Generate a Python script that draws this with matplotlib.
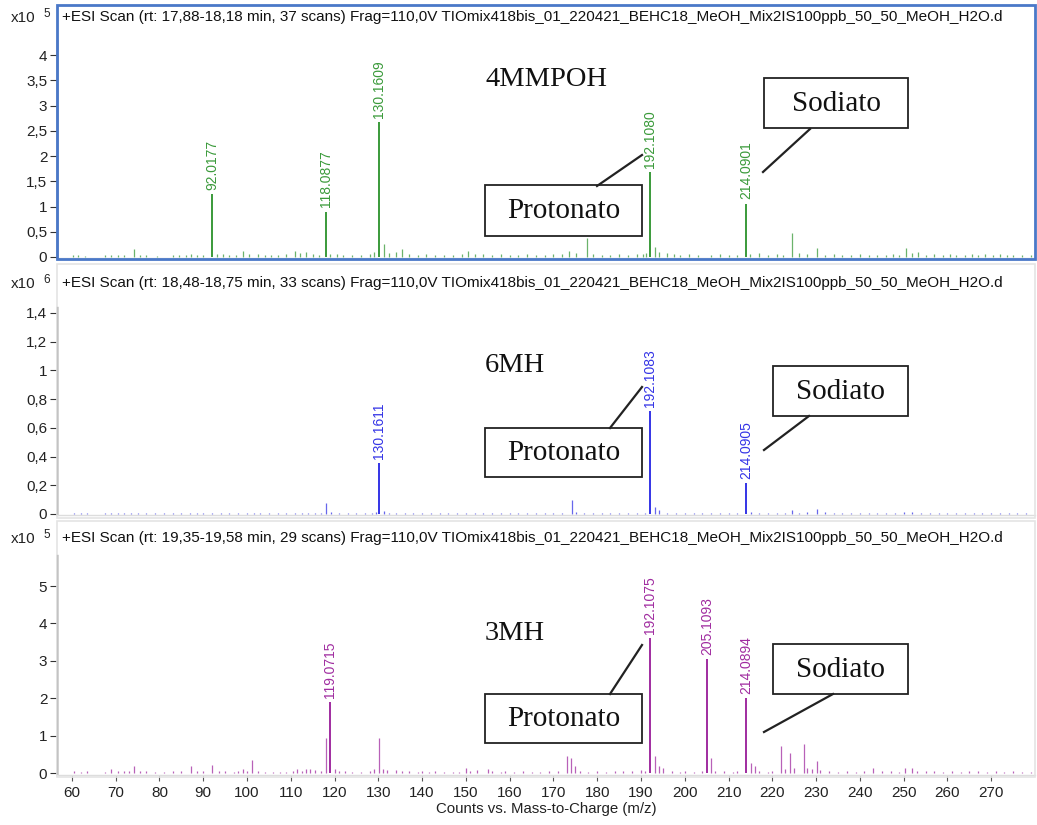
import matplotlib
matplotlib.use("Agg")
import matplotlib.pyplot as plt
from matplotlib.patches import Rectangle
from matplotlib.ticker import FuncFormatter

# ---------------------------------------------------------------- data
SAMPLE_FILE = "TIOmix418bis_01_220421_BEHC18_MeOH_Mix2IS100ppb_50_50_MeOH_H2O.d"
scan_titles = [
    "+ESI Scan (rt: 17,88-18,18 min, 37 scans) Frag=110,0V " + SAMPLE_FILE,
    "+ESI Scan (rt: 18,48-18,75 min, 33 scans) Frag=110,0V " + SAMPLE_FILE,
    "+ESI Scan (rt: 19,35-19,58 min, 29 scans) Frag=110,0V " + SAMPLE_FILE,
]
compounds = ["4MMPOH", "6MH", "3MH"]
scale_exp = [5, 6, 5]

# labelled peaks (m/z, intensity in units of 10^exp)
p1_mz = [92.0177, 118.0877, 130.1609, 192.1080, 214.0901]
p1_int = [1.25, 0.90, 2.68, 1.69, 1.06]
p2_mz = [130.1611, 192.1083, 214.0905]
p2_int = [0.353, 0.717, 0.214]
p3_mz = [119.0715, 192.1075, 205.1093, 214.0894]
p3_int = [1.91, 3.60, 3.04, 2.00]

# minor (unlabelled) peaks as (m/z, intensity)
m1_peaks = [
    (60.3, .03), (61.5, .03), (63, .02), (67.5, .03), (69, .04), (70.5, .03),
    (72, .04), (74.2, .15), (75.5, .03), (77, .03), (79.5, .02), (83, .03),
    (84.5, .04), (86, .03), (87.2, .05), (88.5, .03), (90, .04), (93.2, .06),
    (94.5, .05), (96, .04), (97.5, .03), (99, .12), (100.5, .05), (102.5, .06),
    (104, .04), (105.5, .03), (107, .04), (109, .05), (111, .12), (112, .07),
    (113.5, .09), (115, .05), (116.5, .04), (119, .06), (120.5, .05), (122, .04),
    (124, .03), (126, .04), (128, .05), (129, .10), (131.2, .25), (132.5, .07),
    (134, .10), (135.5, .15), (137, .05), (139, .04), (141, .05), (143, .04),
    (145, .03), (147, .04), (149, .05), (150.5, .12), (152, .06), (154, .05),
    (156, .04), (158, .05), (160, .04), (162, .03), (164, .05), (166, .04),
    (168, .03), (170, .05), (172, .06), (173.5, .12), (175.1, .08), (177.6, .37),
    (179, .05), (181, .04), (183, .03), (185, .05), (187, .04), (189, .05),
    (190.5, .06), (191.2, .08), (193.2, .20), (194.2, .10), (196, .07),
    (197.5, .05), (199, .04), (201, .05), (203, .04), (206, .04), (208, .05),
    (210, .03), (212, .04), (215, .05), (217, .08), (219, .04), (221, .05),
    (222.5, .04), (224.4, .48), (226, .07), (228, .05), (230.1, .18), (232, .04),
    (234, .05), (236, .03), (238, .04), (240, .05), (242, .04), (244, .03),
    (246, .04), (247.5, .05), (249, .04), (250.5, .18), (252, .08), (253.2, .10),
    (255, .04), (257, .05), (259, .04), (260.5, .05), (262, .03), (264, .04),
    (265.5, .06), (267, .04), (268.5, .05), (270.5, .04), (272, .06),
    (273.5, .04), (275, .03), (277, .04), (279, .03),
]

m2_peaks = [
    (60.5, .008), (62, .006), (63.5, .008), (67.5, .006), (69, .008),
    (70.5, .007), (72, .008), (73.5, .006), (75, .007), (77, .008), (79, .006),
    (81, .007), (83, .006), (85, .008), (87, .007), (88.5, .006), (90, .008),
    (92, .006), (94, .007), (96, .008), (98, .007), (100, .006), (101.5, .008),
    (103, .007), (105, .006), (107, .007), (109, .008), (111, .007),
    (112.5, .009), (114, .008), (115.5, .007), (117, .008), (118, .080),
    (119.2, .012), (121, .007), (123, .008), (125, .006), (127, .008),
    (128.5, .009), (129.5, .012), (131.2, .020), (132.5, .009), (134, .008),
    (136, .007), (138, .008), (140, .006), (142, .007), (144, .008), (146, .007),
    (148, .008), (150, .009), (152, .008), (154, .007), (156, .008), (158, .009),
    (160, .007), (162, .008), (164, .009), (166, .008), (168, .007), (170, .009),
    (172, .008), (174.2, .100), (175.2, .015), (177, .008), (179, .007),
    (181, .009), (183, .008), (185, .007), (187, .008), (189, .009), (191, .010),
    (193.1, .050), (194.1, .025), (196, .010), (198, .008), (200, .007),
    (202, .008), (204, .007), (206, .009), (208, .008), (210, .007), (212, .008),
    (215.1, .012), (217, .009), (219, .008), (221, .009), (223, .010),
    (224.4, .030), (226, .010), (228, .012), (230.3, .035), (232, .012),
    (234, .009), (236, .008), (238, .009), (240, .008), (242, .010), (244, .009),
    (246, .008), (248, .010), (250, .011), (252, .012), (254, .010), (256, .009),
    (258, .008), (260, .009), (262, .008), (264, .009), (266, .008), (268, .009),
    (270, .008), (272, .009), (274, .008), (276, .007), (278, .008),
]

m3_peaks = [
    (60.5, .06), (62, .04), (63.5, .05), (67.5, .03), (69, .12), (70.5, .05),
    (72, .05), (73, .05), (74.2, .20), (75.5, .05), (77, .06), (79, .03),
    (81, .03), (83, .06), (85, .05), (87.2, .20), (88.5, .05), (90, .05),
    (92, .22), (93.5, .06), (95, .05), (97, .04), (98, .05), (99, .12),
    (100, .06), (101.1, .35), (102.5, .06), (104, .04), (106, .04), (107.5, .04),
    (109, .03), (110.5, .05), (111.5, .12), (112.5, .06), (113.5, .10),
    (114.5, .12), (115.5, .08), (117, .05), (118.0, .93), (120, .12), (121, .06),
    (122.5, .05), (124, .04), (126, .04), (128, .06), (129, .10), (130.15, .95),
    (131, .12), (132, .08), (134, .08), (135.5, .06), (137, .05), (139, .04),
    (140, .06), (141.5, .04), (143, .05), (145, .04), (147, .04), (148.5, .04),
    (150, .15), (151, .06), (152.5, .08), (155, .10), (156, .05), (158, .04),
    (159, .06), (161, .04), (163, .05), (165, .03), (167, .04), (169, .05),
    (171, .05), (173.1, .45), (174, .40), (175, .20), (176, .06), (178, .04),
    (180, .05), (182, .04), (184, .05), (186, .06), (188, .05), (190, .08),
    (191, .05), (193.1, .45), (194, .20), (195, .15), (197, .05), (199, .04),
    (200, .06), (202, .04), (204, .05), (206.1, .40), (207, .06), (209, .05),
    (211, .04), (212, .06), (215.1, .28), (216, .20), (217, .06), (219, .04),
    (220, .05), (222, .72), (223, .12), (224, .55), (225, .15), (227.3, .78),
    (228, .15), (229, .10), (230.2, .32), (231, .08), (233, .05), (235, .04),
    (237, .05), (239, .04), (241, .05), (243, .15), (245, .05), (247, .05),
    (249, .04), (250.2, .15), (252, .15), (253, .06), (255, .05), (257, .05),
    (259, .04), (261, .05), (263, .04), (265, .05), (267, .06), (269, .04),
    (271, .05), (273, .04), (275, .05), (277, .04), (279, .04),
]

panel_colors = ["#3a9a3a", "#3434e6", "#a02ca0"]
y_tops = [4.30, 1.441, 5.83]
y_bottoms = [-0.02, -0.007, -0.05]
y_steps = [0.5, 0.2, 1.0]
y_maxtick = [4.0, 1.4, 5.0]
x_ticks = list(range(60, 280, 10))
x_min, x_max = 56.6, 280.0

# ---------------------------------------------------------------- figure
W, H = 1037, 825
fig = plt.figure(figsize=(W / 100, H / 100), dpi=100)
fig.patch.set_facecolor("white")

SANS = ["Liberation Sans", "DejaVu Sans"]
SERIF = ["Liberation Serif", "DejaVu Serif"]


def fx(px):
    return px / W


def fy(py):
    return 1 - py / H


# plot-area pixel extents (top, bottom) for each panel
panel_px = [(40, 258), (307, 515), (555, 775)]
frame_px = [(5, 259), (264, 518), (521, 777)]
title_y = [17, 283, 538]
ax_left, ax_right = 57, 1035

major = [(p1_mz, p1_int), (p2_mz, p2_int), (p3_mz, p3_int)]
minor = [m1_peaks, m2_peaks, m3_peaks]

comma_fmt = FuncFormatter(lambda v, pos: ("%g" % round(v, 3)).replace(".", ","))

axes = []
for i in range(3):
    top, bot = panel_px[i]
    ax = fig.add_axes([fx(ax_left), fy(bot), fx(ax_right - ax_left), (bot - top) / H])
    axes.append(ax)
    col = panel_colors[i]
    mz = [p[0] for p in minor[i]]
    it = [p[1] for p in minor[i]]
    ax.vlines(mz, 0, it, color=col, lw=0.9, alpha=0.75)
    mz, it = major[i]
    ax.vlines(mz, 0, it, color=col, lw=1.4)
    for m, v in zip(mz, it):
        ax.annotate("%.4f" % m, (m, v), xytext=(0, 3), textcoords="offset points",
                    rotation=90, ha="center", va="bottom", color=col,
                    fontsize=10, family=SANS)
    ax.set_xlim(x_min, x_max)
    ax.set_ylim(y_bottoms[i], y_tops[i])
    n = int(round(y_maxtick[i] / y_steps[i]))
    ax.set_yticks([k * y_steps[i] for k in range(n + 1)])
    ax.yaxis.set_major_formatter(comma_fmt)
    ax.tick_params(axis="y", length=5, width=0.8, color="#333333", labelsize=11,
                   labelcolor="#222222", pad=2)
    for lab in ax.get_yticklabels():
        lab.set_family(SANS)
    for s in ("top", "right"):
        ax.spines[s].set_visible(False)
    ax.spines["left"].set_color("#222222")
    ax.spines["left"].set_linewidth(1.0)
    ax.spines["bottom"].set_color("#dddddd")
    ax.spines["bottom"].set_linewidth(1.0)
    ax.patch.set_alpha(0)
    if i < 2:
        ax.set_xticks([])
    else:
        ax.set_xticks(x_ticks)
        ax.tick_params(axis="x", length=4, width=0.8, color="#555555", labelsize=11,
                       labelcolor="#222222", pad=4)
        for lab in ax.get_xticklabels():
            lab.set_family(SANS)
        ax.set_xlabel("Counts vs. Mass-to-Charge (m/z)", fontsize=10.8, family=SANS,
                      color="#222222", labelpad=1)

# overlay in pixel coordinates for frames, titles and callouts
ov = fig.add_axes([0, 0, 1, 1], zorder=5)
ov.set_xlim(0, W)
ov.set_ylim(H, 0)
ov.axis("off")
ov.patch.set_alpha(0)

for i in range(3):
    ft, fb = frame_px[i]
    ec = "#4a78c8" if i == 0 else "#e4e4e4"
    lw = 2.0 if i == 0 else 1.2
    ov.add_patch(Rectangle((ax_left, ft), ax_right - ax_left, fb - ft, fill=False,
                           ec=ec, lw=lw))
    ov.text(62, title_y[i], scan_titles[i], fontsize=10.95, family=SANS,
            color="#111111", va="center", ha="left")
    ov.text(11, title_y[i] + 1, "x10", fontsize=11, family=SANS, color="#222222",
            va="center", ha="left")
    ov.text(43, title_y[i] - 3, str(scale_exp[i]), fontsize=8.5, family=SANS,
            color="#222222", va="center", ha="left")

# compound names
name_y = [80, 365, 633]
for i in range(3):
    ov.text(485, name_y[i], compounds[i], fontsize=20.5, family=SERIF, color="#111111",
            va="center", ha="left")


def callout(text, box, line):
    x0, y0, x1, y1 = box
    ov.add_patch(Rectangle((x0, y0), x1 - x0, y1 - y0, fill=True, fc="white",
                           ec="#222222", lw=1.3))
    ov.text((x0 + x1) / 2, (y0 + y1) / 2 + 1, text, fontsize=21, family=SERIF,
            color="#111111", ha="center", va="center")
    ov.plot([line[0], line[2]], [line[1], line[3]], color="#222222", lw=1.6)


# Protonato / Sodiato callouts for each panel
callout("Protonato", (485, 185, 642, 236), (597, 186, 642, 155))
callout("Sodiato", (764, 78, 908, 128), (810, 129, 763, 172))
callout("Protonato", (485, 428, 642, 477), (610, 428, 642, 387))
callout("Sodiato", (773, 366, 908, 416), (809, 416, 764, 450))
callout("Protonato", (485, 694, 642, 743), (610, 694, 642, 645))
callout("Sodiato", (773, 644, 908, 694), (833, 694, 764, 732))

fig.savefig("out.png", dpi=100)
